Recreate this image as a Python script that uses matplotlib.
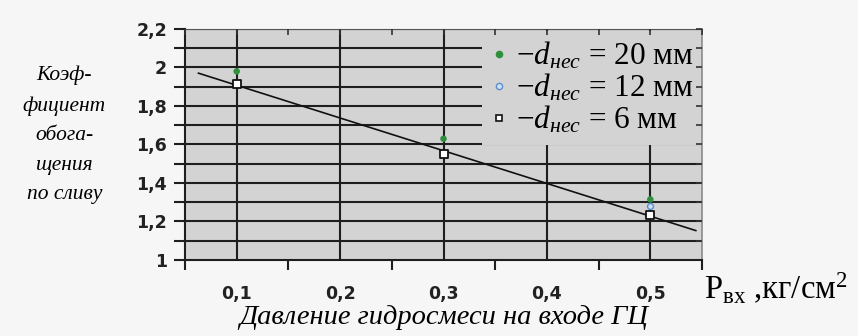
import numpy as np
import matplotlib.pyplot as plt
from matplotlib.lines import Line2D

plt.rcParams['mathtext.fontset'] = 'custom'
plt.rcParams['mathtext.rm'] = 'Liberation Serif'
plt.rcParams['mathtext.it'] = 'Liberation Serif:italic'

# pressure at hydrocyclone inlet, kg/cm2
pressure = [0.1, 0.3, 0.5]
# enrichment coefficient for each sand size
k_20mm = [1.98, 1.63, 1.315]
k_12mm = [1.92, 1.555, 1.28]
k_6mm = [1.915, 1.553, 1.235]
sizes = ['20', '12', '6']

x_ticks = [0.1, 0.2, 0.3, 0.4, 0.5]
x_labels = ['0,1', '0,2', '0,3', '0,4', '0,5']
y_ticks = [1, 1.2, 1.4, 1.6, 1.8, 2, 2.2]
y_labels = ['1', '1,2', '1,4', '1,6', '1,8', '2', '2,2']

GRID = '#1e1e1e'
PANEL = '#d3d3d3'

fig = plt.figure(figsize=(8.58, 3.36), dpi=100, facecolor='#f6f6f6')
ax = fig.add_axes([0.2156, 0.2262, 0.6026, 0.6875])
ax.set_facecolor(PANEL)
ax.set_xlim(0.05, 0.55)
ax.set_ylim(1, 2.2)

# grid drawn by hand so the legend can sit between grid and ticks
for x in x_ticks:
    ax.axvline(x, color=GRID, lw=1.5, zorder=1)
for y in np.arange(1.1, 2.21, 0.1):
    ax.axhline(y, color=GRID, lw=1.5, zorder=1)

ax.set_xticks(x_ticks)
ax.set_xticklabels(x_labels)
ax.set_xticks(np.arange(0.05, 0.56, 0.1), minor=True)
ax.set_yticks(y_ticks)
ax.set_yticklabels(y_labels)
ax.set_yticks(np.arange(1.1, 2.2, 0.2), minor=True)
ax.tick_params(axis='x', which='major', length=0, pad=18)
ax.tick_params(axis='x', which='minor', length=7, width=1.5, color=GRID, direction='out')
ax.tick_params(axis='y', which='both', length=8, width=1.5, color=GRID, direction='out', pad=5)
for lab in ax.get_xticklabels() + ax.get_yticklabels():
    lab.set_fontfamily('DejaVu Sans')
    lab.set_fontweight('bold')
    lab.set_fontsize(12.5)
    lab.set_color('#222222')

for side in ['left', 'bottom']:
    ax.spines[side].set_color(GRID)
    ax.spines[side].set_linewidth(1.5)
ax.spines['top'].set_color('#555555')
ax.spines['right'].set_color('#8a8a8a')
ax.spines['right'].set_linewidth(1.2)

# small inward ticks on top and right edges
top = ax.secondary_xaxis('top')
top.set_xticks(np.arange(0.05, 0.56, 0.05))
top.tick_params(direction='in', length=4, width=1.2, color='#333333', labeltop=False)
top.spines['top'].set_visible(False)
top.set_zorder(6)
right = ax.secondary_yaxis('right')
right.set_yticks(np.arange(1.1, 2.21, 0.1))
right.tick_params(direction='in', length=4, width=1.2, color='#333333', labelright=False)
right.spines['right'].set_visible(False)
right.set_zorder(6)

# linear trend through the 6 mm series
coef = np.polyfit(pressure, k_6mm, 1)
x_fit = np.array([0.063, 0.544])
ax.plot(x_fit, np.polyval(coef, x_fit), color='#111111', lw=1.2, zorder=3)

ax.scatter(pressure, k_20mm, s=22, color='#2f8f3a', edgecolors='none', zorder=4)
ax.scatter(pressure, k_12mm, s=18, facecolor='#cfe0f2', edgecolors='#5a8fd0', lw=1.0, zorder=5)
ax.scatter(pressure, k_6mm, s=34, marker='s', facecolor='white', edgecolors='#111111', lw=1.3, zorder=6)

handles = [
    Line2D([], [], ls='none', marker='o', ms=4.5, mfc='#2f8f3a', mec='#2f8f3a'),
    Line2D([], [], ls='none', marker='o', ms=4.5, mfc='#cfe0f2', mec='#5a8fd0', mew=1.0),
    Line2D([], [], ls='none', marker='s', ms=5, mfc='white', mec='#111111', mew=1.2),
]
labels = [r'$-d_{\mathit{нес}}$ = ' + s + ' мм' for s in sizes]
leg = ax.legend(handles, labels, loc='upper right', bbox_to_anchor=(1.0, 0.99),
                frameon=True, facecolor=PANEL, edgecolor='none', framealpha=1,
                fancybox=False, borderaxespad=0, handlelength=0.5, handletextpad=0.3,
                labelspacing=0.02, borderpad=0.28,
                prop={'family': 'Liberation Serif', 'size': 22.5})
leg.set_zorder(2)

fig.text(0.075, 0.598, 'Коэф-\nфициент\nобога-\nщения\nпо сливу', ha='center', va='center',
         family='Liberation Serif', style='italic', fontsize=15.5, linespacing=1.75)
fig.text(0.821, 0.142, r'$\mathrm{P}_{\mathrm{вх}}$ ,кг/см$^{2}$', ha='left', va='center',
         family='Liberation Serif', fontsize=23.5)
fig.text(0.517, 0.055, 'Давление гидросмеси на входе ГЦ', ha='center', va='center',
         family='Liberation Serif', style='italic', fontsize=20.5)

fig.savefig('out.png', dpi=100, facecolor=fig.get_facecolor())
